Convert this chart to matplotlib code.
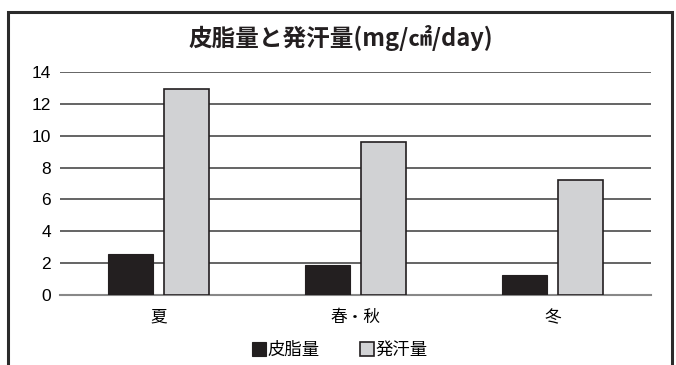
import numpy as np
import matplotlib.pyplot as plt
from matplotlib.patches import Rectangle

plt.rcParams['font.family'] = ['Liberation Sans', 'Noto Sans CJK JP', 'DejaVu Sans']

# data
seasons = ['夏', '春・秋', '冬']
sebum = [2.55, 1.9, 1.25]
sweat = [12.95, 9.6, 7.2]
yticks = [0, 2, 4, 6, 8, 10, 12, 14]

W, H = 676, 365
fig = plt.figure(figsize=(W / 100, H / 100), dpi=100)
fig.patch.set_facecolor('white')

# outer frame (bottom runs off the picture)
fig.patches.append(Rectangle((7.5 / W, -0.1), (672 - 7.5) / W, 1.1 - 11.5 / H,
                             transform=fig.transFigure, fill=False,
                             edgecolor='#2b2b2b', linewidth=2.2))

ax = fig.add_axes([60 / W, 1 - 295 / H, (651 - 60) / W, (295 - 72) / H])
x = np.arange(len(seasons))
bw = 0.228
off = 0.142
ax.bar(x - off, sebum, bw, color='#231f20', edgecolor='#231f20', linewidth=0.8, zorder=3,
       label='皮脂量')
ax.bar(x + off, sweat, bw, color='#d1d2d4', edgecolor='#231f20', linewidth=1.2, zorder=3,
       label='発汗量')

ax.set_xlim(-0.5, 2.5)
ax.set_ylim(0, 14)
ax.set_yticks(yticks)
ax.set_yticklabels([str(v) for v in yticks], fontsize=12.5)
ax.yaxis.grid(True, color='#3a3a3a', linewidth=1.1, zorder=0)
ax.set_axisbelow(True)
ax.tick_params(axis='y', length=0, pad=6.5)
ax.set_xticks(x)
ax.set_xticklabels(seasons, fontsize=12, family=['Noto Sans CJK JP'])
ax.tick_params(axis='x', length=0, pad=10)
for s in ['top', 'right', 'left']:
    ax.spines[s].set_visible(False)
ax.spines['bottom'].set_color('#888888')
ax.spines['bottom'].set_linewidth(1.5)

fig.text(341 / W, 1 - 38 / H, '皮脂量と発汗量(mg/㎠/day)', ha='center', va='center',
         fontsize=17, fontweight='bold', family=['Noto Sans CJK JP'], color='#231f20')

leg = fig.legend(loc='center', bbox_to_anchor=(340 / W, 1 - 350 / H), ncol=2, frameon=False,
                 prop={'family': 'Noto Sans CJK JP', 'size': 12.5},
                 handlelength=0.8, handleheight=0.8, handletextpad=0.1, columnspacing=2.3)

fig.savefig('out.png', dpi=100)
